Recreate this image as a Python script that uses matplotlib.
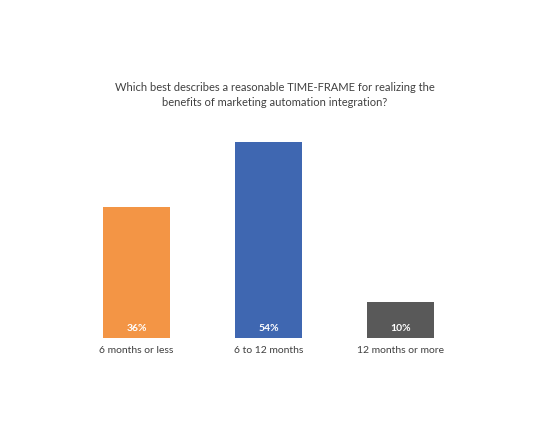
import matplotlib.pyplot as plt

# chart data
categories = ['6 months or less', '6 to 12 months', '12 months or more']
values = [36, 54, 10]
colors = ['#F39545', '#3F67B1', '#595959']
title = 'Which best describes a reasonable TIME-FRAME for realizing the\nbenefits of marketing automation integration?'

plt.rcParams['font.family'] = ['Lato', 'DejaVu Sans']

fig = plt.figure(figsize=(5.5, 4.45), dpi=100)
# axes placed so bars sit where the reference has them
ax = fig.add_axes([70.5 / 550, 107 / 445, 396 / 550, 217.8 / 445])

x = range(len(categories))
bars = ax.bar(x, values, width=0.51, color=colors)
ax.set_xlim(-0.5, 2.5)
ax.set_ylim(0, 60)

for b, v in zip(bars, values):
    ax.text(b.get_x() + b.get_width() / 2, 1.4, f'{v}%', ha='center', va='bottom',
            color='white', fontsize=7.5, fontweight='bold')

ax.set_xticks(list(x))
ax.set_xticklabels(categories, fontsize=7.5, color='#404040')
ax.tick_params(axis='x', length=0, pad=6)
ax.set_yticks([])
for s in ax.spines.values():
    s.set_visible(False)

fig.text(0.5, 1 - 95 / 445, title, ha='center', va='center', fontsize=8,
         color='#404040', linespacing=1.35)

fig.savefig('out.png', dpi=100)
